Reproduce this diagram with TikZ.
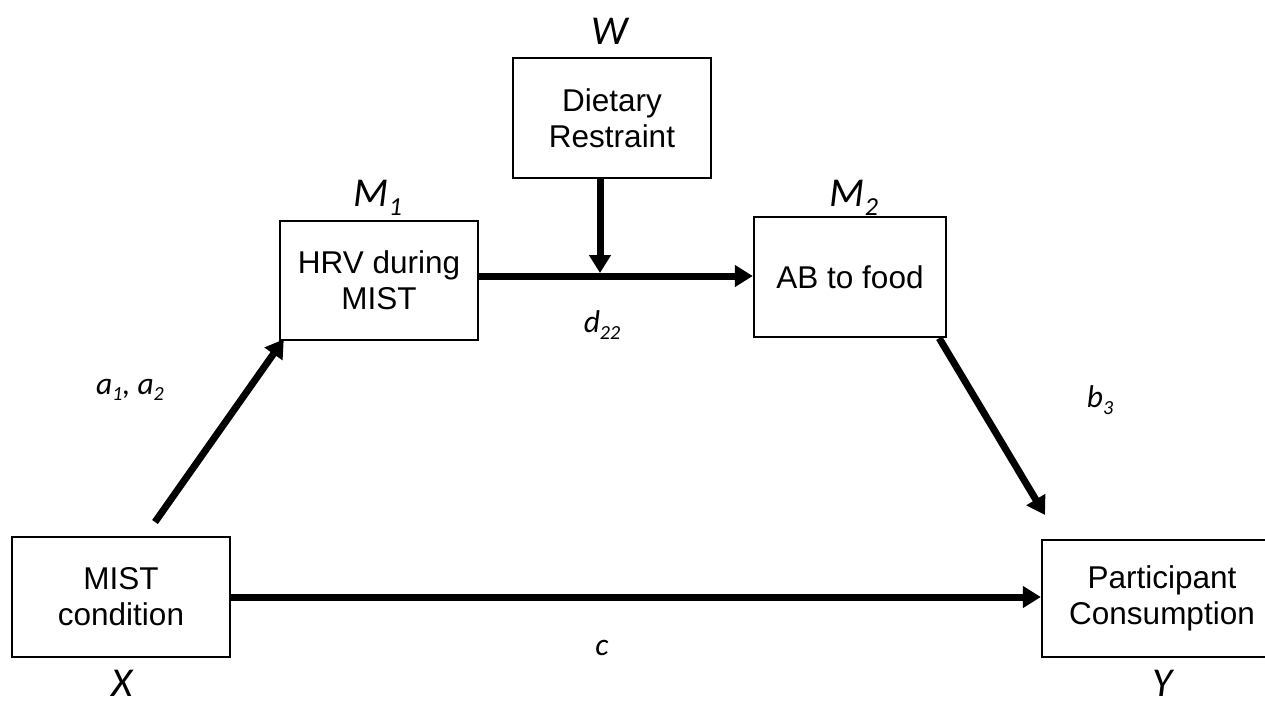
\documentclass[tikz,border=0pt]{standalone}
\usepackage{fontspec}
\setmainfont{Liberation Sans}
\newfontfamily\calib{Carlito}
\usetikzlibrary{arrows.meta}
\newcommand\bigsub[1]{\raisebox{-0.22em}{\fontsize{26}{28}\selectfont #1}}
\newcommand\smlsub[1]{\raisebox{-0.2em}{\fontsize{20}{22}\selectfont #1}}
\tikzset{
  box/.style={draw, line width=2.4pt, minimum width=198pt, minimum height=120pt,
    align=center, inner sep=0pt, font=\fontsize{31.5}{36}\selectfont},
  biglbl/.style={inner sep=0pt, font=\calib\itshape\fontsize{41}{43}\selectfont},
  smllbl/.style={inner sep=0pt, font=\calib\itshape\fontsize{31.5}{33}\selectfont},
  arr/.style={line width=7pt, -{Triangle[length=18pt,width=21pt]}},
}
\begin{document}
\begin{tikzpicture}[x=1pt,y=-1pt]
\useasboundingbox (0,0) rectangle (1265,705);
% boxes
\node[box, minimum width=198pt] (W) at (612,118) {Dietary\\Restraint};
\node[box, minimum width=198pt, minimum height=119pt] (M1) at (379,280.5) {HRV during\\MIST};
\node[box, minimum width=192pt] (M2) at (850,277) {AB to food};
\node[box, minimum width=218pt] (X) at (121,597) {MIST\\condition};
\node[box, minimum width=240pt, minimum height=117pt] (Y) at (1162,598.5) {Participant\\Consumption};
% variable labels
\node[biglbl] (Wl) at (610,31) {W};
\node[biglbl] (M1l) at (378,198) {M\bigsub{1}};
\node[biglbl] (M2l) at (854,198) {M\bigsub{2}};
\node[biglbl] (Xl) at (122,683) {X};
\node[biglbl] (Yl) at (1162,683) {Y};
% path labels
\node[smllbl] (la) at (130,390) {a\smlsub{1}, a\smlsub{2}};
\node[smllbl] (ld) at (602,325) {d\smlsub{22}};
\node[smllbl] (lb) at (1100,400) {b\smlsub{3}};
\node[smllbl] (lc) at (602,648) {c};
% connectors
\coordinate (xs) at (155,522);
\draw[arr] (xs) -- ([xshift=5pt,yshift=2pt]M1.south west);
\coordinate (j) at (600,276);
\coordinate (jt) at (600,273);
\draw[arr] (M1.east |- j) -- (j -| M2.west);
\draw[arr] (W.south -| j) -- (jt);
\coordinate (ye) at (1045,515);
\draw[arr] ([xshift=-8pt]M2.south east) -- (ye);
\draw[arr] (X.east) -- (X.east -| Y.west);
\end{tikzpicture}
\end{document}
